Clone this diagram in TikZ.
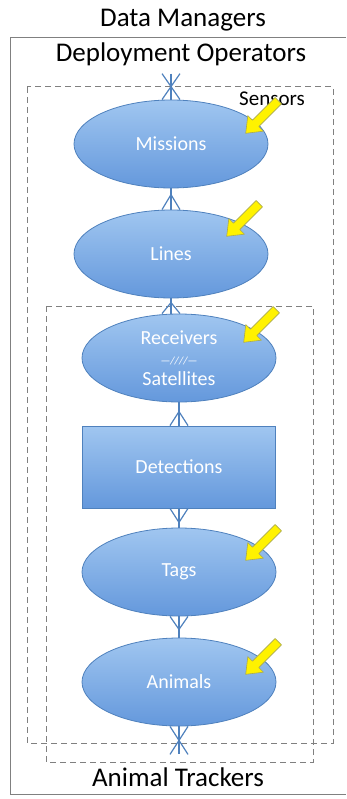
\documentclass[tikz,border=0pt]{standalone}
\usepackage{fontspec}
\setmainfont{Carlito}
\usetikzlibrary{shapes.geometric,calc}

\definecolor{entityblue}{RGB}{79,129,189}
\definecolor{entitytop}{RGB}{160,198,240}
\definecolor{entitybottom}{RGB}{100,152,220}
\definecolor{groupgray}{RGB}{128,128,128}
\definecolor{arrowyellow}{RGB}{255,242,0}
\definecolor{arrowrim}{RGB}{170,170,80}

\tikzset{
  entity/.style={ellipse, draw=entityblue, line width=0.8pt, top color=entitytop, bottom color=entitybottom,
    minimum width=194pt, minimum height=88pt, inner sep=0pt, text=white, font=\fontsize{20}{20.5}\selectfont},
  tablebox/.style={rectangle, draw=entityblue, line width=0.8pt, top color=entitytop, bottom color=entitybottom,
    minimum width=193pt, minimum height=82pt, inner sep=0pt, text=white, font=\fontsize{20}{22}\selectfont},
  link/.style={draw=entityblue, line width=1.2pt},
  group/.style={draw=groupgray, line width=1pt, dash pattern=on 6pt off 4pt},
  title/.style={anchor=base, font=\fontsize{27}{30}\selectfont},
  sensorarrow/.style={fill=arrowyellow, draw=arrowrim, line width=0.6pt, line join=round}
}

% fork of a many-end: #1 = point on the edge, #2 = offset of the fork
\newcommand{\crowfoot}[2]{%
  \draw[link] ($(#1)+(0,#2)$) -- ($(#1)+(-9,0)$) ($(#1)+(0,#2)$) -- ($(#1)+(9,0)$);}
% fat arrow pointing down-left, centred at #1
\newcommand{\sensorarrow}[1]{%
  \draw[sensorarrow, shift={(#1)}] (19.5,-13.1) -- (-3.2,9.6) -- (1.4,14.2) -- (-16.3,16.3)
    -- (-14.2,-1.4) -- (-9.6,3.2) -- (13.1,-19.5) -- cycle;}

\begin{document}
\begin{tikzpicture}[x=1pt,y=1pt,yscale=-1]
  \useasboundingbox (0,0) rectangle (346,799);

  % Outer frame
  \draw [color=groupgray, line width=0.8pt] (346,37) -- (10,37) -- (10,794) -- (346,794);
  % Dashed groups
  \draw [group] (27,87) rectangle (333,743);
  \draw [group] (46,306) rectangle (313,762);

  % Text Node
  \node [title] (managers) at (183,27) {Data Managers};
  \node [title] (operators) at (181,62) {Deployment Operators};
  \node [title] (trackers) at (178,786) {Animal Trackers};
  \node [anchor=base, font=\fontsize{21}{24}\selectfont] (sensors) at (272,106) {Sensors};

  % Entities
  \node [entity] (missions) at (171,144) {Missions};
  \node [entity] (lines) at (171,254) {Lines};
  \node [entity, align=center] (receivers) at (179,358) {Receivers\\{\fontsize{11}{12}\selectfont\itshape ---////---}\\Satellites};
  \node [tablebox] (detections) at (179,467) {Detections};
  \node [entity] (tags) at (179,572) {Tags};
  \node [entity] (animals) at (179,682) {Animals};

  % Connectors
  \coordinate (opsfoot) at ($(missions.north)+(0,-26)$);
  \draw [link] (opsfoot) -- (missions.north);
  \crowfoot{opsfoot}{13}
  \crowfoot{missions.north}{-13}

  \draw [link] (missions.south) -- (lines.north);
  \crowfoot{lines.north}{-15}

  \coordinate (recvtop) at (lines.south |- receivers.north);
  \draw [link] (lines.south) -- (recvtop);
  \crowfoot{recvtop}{-11}

  \draw [link] (receivers.south) -- (detections.north);
  \crowfoot{detections.north}{-14}

  \draw [link] (detections.south) -- (tags.north);
  \crowfoot{detections.south}{14}

  \draw [link] (tags.south) -- (animals.north);
  \crowfoot{tags.south}{13}

  \coordinate (trkfoot) at ($(animals.south)+(0,28)$);
  \draw [link] (animals.south) -- (trkfoot);
  \crowfoot{animals.south}{14}
  \crowfoot{trkfoot}{-14}

  % Sensor arrows
  \sensorarrow{262,117}
  \sensorarrow{243,220}
  \sensorarrow{260,326}
  \sensorarrow{262,544}
  \sensorarrow{262,658}
\end{tikzpicture}
\end{document}
